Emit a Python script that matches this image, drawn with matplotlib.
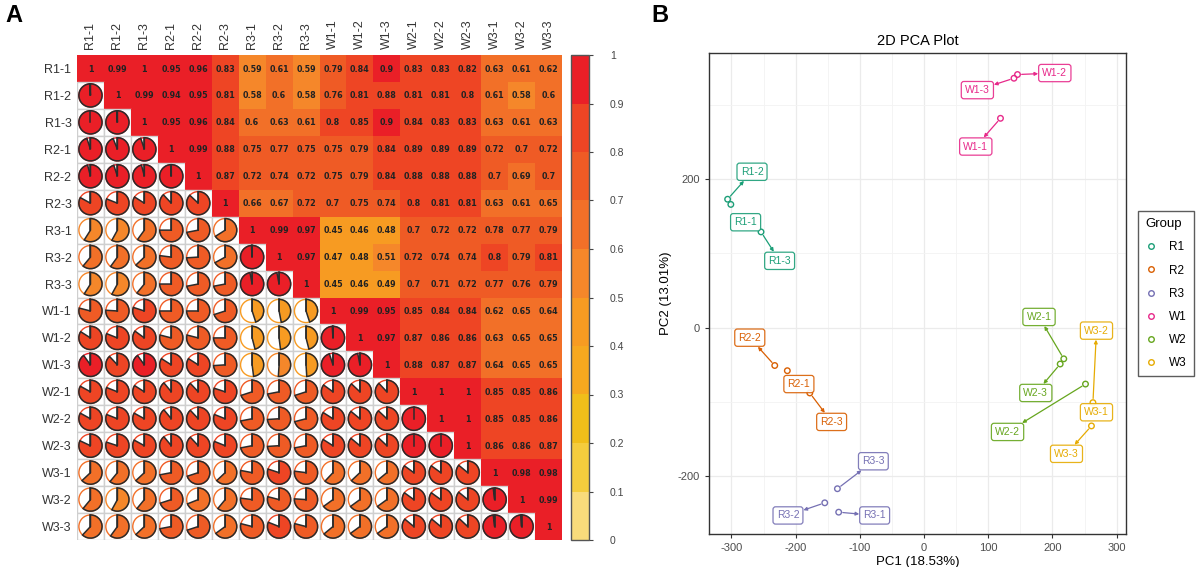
import numpy as np
import matplotlib.pyplot as plt
from matplotlib.patches import Rectangle, Circle, Wedge
from matplotlib.colors import ListedColormap, BoundaryNorm
from matplotlib.cm import ScalarMappable
from matplotlib.lines import Line2D

plt.rcParams['font.family'] = ['Liberation Sans', 'DejaVu Sans']
plt.rcParams['axes.unicode_minus'] = False

# ---- panel A data: sample correlations (upper triangle, row by row)
samples = ['R1-1', 'R1-2', 'R1-3', 'R2-1', 'R2-2', 'R2-3', 'R3-1', 'R3-2', 'R3-3',
           'W1-1', 'W1-2', 'W1-3', 'W2-1', 'W2-2', 'W2-3', 'W3-1', 'W3-2', 'W3-3']
upper = [
    [1, 0.99, 1, 0.95, 0.96, 0.83, 0.59, 0.61, 0.59, 0.79, 0.84, 0.9, 0.83, 0.83, 0.82, 0.63, 0.61, 0.62],
    [1, 0.99, 0.94, 0.95, 0.81, 0.58, 0.6, 0.58, 0.76, 0.81, 0.88, 0.81, 0.81, 0.8, 0.61, 0.58, 0.6],
    [1, 0.95, 0.96, 0.84, 0.6, 0.63, 0.61, 0.8, 0.85, 0.9, 0.84, 0.83, 0.83, 0.63, 0.61, 0.63],
    [1, 0.99, 0.88, 0.75, 0.77, 0.75, 0.75, 0.79, 0.84, 0.89, 0.89, 0.89, 0.72, 0.7, 0.72],
    [1, 0.87, 0.72, 0.74, 0.72, 0.75, 0.79, 0.84, 0.88, 0.88, 0.88, 0.7, 0.69, 0.7],
    [1, 0.66, 0.67, 0.72, 0.7, 0.75, 0.74, 0.8, 0.81, 0.81, 0.63, 0.61, 0.65],
    [1, 0.99, 0.97, 0.45, 0.46, 0.48, 0.7, 0.72, 0.72, 0.78, 0.77, 0.79],
    [1, 0.97, 0.47, 0.48, 0.51, 0.72, 0.74, 0.74, 0.8, 0.79, 0.81],
    [1, 0.45, 0.46, 0.49, 0.7, 0.71, 0.72, 0.77, 0.76, 0.79],
    [1, 0.99, 0.95, 0.85, 0.84, 0.84, 0.62, 0.65, 0.64],
    [1, 0.97, 0.87, 0.86, 0.86, 0.63, 0.65, 0.65],
    [1, 0.88, 0.87, 0.87, 0.64, 0.65, 0.65],
    [1, 1, 1, 0.85, 0.85, 0.86],
    [1, 1, 0.85, 0.85, 0.86],
    [1, 0.86, 0.86, 0.87],
    [1, 0.98, 0.98],
    [1, 0.99],
    [1],
]
bin_colors = ['#F9DB7B', '#F4CC3D', '#F0BE1A', '#F6A81F', '#F79B22',
              '#F5872A', '#F27028', '#EF5B25', '#EE4524', '#EA1F27']
cbar_ticks = [0, 0.1, 0.2, 0.3, 0.4, 0.5, 0.6, 0.7, 0.8, 0.9, 1]

# ---- panel B data: PCA scores and repelled label positions
pc_names = samples
pc1 = [-301, -306, -254, -213, -232.6, -178, -133, -154.7, -135,
       119, 145.5, 140, 217.6, 251.4, 212, 268, 263, 260.7]
pc2 = [166, 173, 129, -58, -51, -88, -248.6, -236, -217,
       282, 341, 336, -42, -76, -49, -112, -101, -132.4]
lab_x = [-278, -268, -225, -195, -271.5, -144, -77, -212, -79,
         80.5, 203.6, 83, 179, 130, 174, 268.5, 268.5, 221.8]
lab_y = [142, 210, 90, -76, -13.5, -127, -253, -253, -180,
         244, 343, 320, 14.4, -140.5, -88, -114, -4, -170]
groups = ['R1', 'R2', 'R3', 'W1', 'W2', 'W3']
group_colors = ['#1B9E77', '#D95F02', '#7570B3', '#E7298A', '#66A61E', '#E6AB02']

n = len(samples)
corr = np.zeros((n, n))
for i, row in enumerate(upper):
    corr[i, i:] = row
    corr[i:, i] = row


def val_color(v):
    return bin_colors[min(int(round(v * 100)) // 10, 9)]


fig = plt.figure(figsize=(12, 5.67), dpi=100)

# ---------------- panel A
ax = fig.add_axes([77 / 1200, 1 - 540 / 567, 485 / 1200, 485 / 567])
ax.set_xlim(0, n)
ax.set_ylim(n, 0)
r = 0.43
for i in range(n):
    for j in range(n):
        v = corr[i, j]
        c = val_color(v)
        if j >= i:
            ax.add_patch(Rectangle((j, i), 1, 1, facecolor=c, edgecolor='none', zorder=1))
            ax.text(j + 0.5, i + 0.52, f'{round(v, 2):g}', ha='center', va='center',
                    fontsize=5.8, fontweight='bold', color='#222222', family='DejaVu Sans', zorder=3)
        else:
            ax.add_patch(Rectangle((j, i), 1, 1, facecolor='white', edgecolor='#cfcfcf', lw=1, zorder=1))
            ax.add_patch(Circle((j + 0.5, i + 0.5), r, facecolor='white', edgecolor=c, lw=1, zorder=2))
            # y axis is inverted, so this runs clockwise from 12 o'clock
            ax.add_patch(Wedge((j + 0.5, i + 0.5), r, -90, -90 + 360 * v,
                               facecolor=c, edgecolor='#2b2b2b', lw=1.1, zorder=3))
            ax.plot([j + 0.5, j + 0.5], [i + 0.5, i + 0.5 - r], color='#2b2b2b', lw=1.1, zorder=4)
ax.set_xticks(np.arange(n) + 0.5)
ax.set_xticklabels(samples, rotation=90, fontsize=9, color='#333333')
ax.set_yticks(np.arange(n) + 0.5)
ax.set_yticklabels(samples, fontsize=9, color='#333333')
ax.tick_params(top=True, labeltop=True, bottom=False, labelbottom=False, length=0, pad=4)
for s in ax.spines.values():
    s.set_visible(False)

cax = fig.add_axes([571 / 1200, 1 - 540 / 567, 18 / 1200, 485 / 567])
cmap = ListedColormap(bin_colors)
norm = BoundaryNorm(cbar_ticks, cmap.N)
cb = fig.colorbar(ScalarMappable(norm=norm, cmap=cmap), cax=cax, ticks=cbar_ticks)
cb.ax.set_yticklabels([f'{t:g}' for t in cbar_ticks])
cb.ax.tick_params(labelsize=7.5, labelcolor='#444444', length=3, color='#444444', pad=12)
cb.outline.set_edgecolor('#555555')
cb.outline.set_linewidth(1)

fig.text(14 / 1200, 1 - 16 / 567, 'A', fontsize=17, fontweight='bold', ha='center', va='center')
fig.text(660 / 1200, 1 - 16 / 567, 'B', fontsize=17, fontweight='bold', ha='center', va='center')

# ---------------- panel B
bx = fig.add_axes([709 / 1200, 1 - 534 / 567, 417 / 1200, 481 / 567])
bx.set_xlim(-335, 314.5)
bx.set_ylim(-278, 370)
bx.set_xticks([-300, -200, -100, 0, 100, 200, 300])
bx.set_yticks([-200, 0, 200])
bx.set_xticks(np.arange(-250, 301, 100), minor=True)
bx.set_yticks([-100, 100, 300], minor=True)
bx.grid(True, which='major', color='#ebebeb', lw=0.9)
bx.grid(True, which='minor', color='#f3f3f3', lw=0.6)
bx.set_axisbelow(True)
bx.tick_params(which='major', labelsize=8, labelcolor='#4d4d4d', color='#333333', length=3)
bx.tick_params(which='minor', length=0)
for s in bx.spines.values():
    s.set_edgecolor('#333333')
    s.set_linewidth(1)
bx.set_xlabel('PC1 (18.53%)', fontsize=9.5, labelpad=2)
bx.set_ylabel('PC2 (13.01%)', fontsize=9.5, labelpad=4)
bx.set_title('2D PCA Plot', fontsize=10.5, pad=6)

gcol = {g: c for g, c in zip(groups, group_colors)}
for k, name in enumerate(pc_names):
    col = gcol[name[:2]]
    bx.scatter(pc1[k], pc2[k], s=16, facecolors='none', edgecolors=col, lw=1, zorder=3)
    p = bx.transData.transform((pc1[k], pc2[k]))
    q = bx.transData.transform((lab_x[k], lab_y[k]))
    arrow = None
    if np.hypot(*(p - q)) > 30:
        arrow = dict(arrowstyle='<|-', color=col, lw=0.9, mutation_scale=5,
                     shrinkA=0, shrinkB=3)
    bx.annotate(name, xy=(pc1[k], pc2[k]), xytext=(lab_x[k], lab_y[k]),
                ha='center', va='center', fontsize=7.5, color=col, zorder=4,
                bbox=dict(boxstyle='round,pad=0.35,rounding_size=0.25',
                          fc='white', ec=col, lw=0.9, alpha=0.9),
                arrowprops=arrow)

handles = [Line2D([], [], marker='o', ls='none', mfc='none', mec=c, ms=4, mew=1)
           for c in group_colors]
leg = fig.legend(handles, groups, title='Group', loc='upper left',
                 bbox_to_anchor=(1138 / 1200, 1 - 211 / 567), fontsize=8.5,
                 title_fontsize=9.5, fancybox=False, edgecolor='#333333',
                 handlelength=1.0, handletextpad=1.0, labelspacing=0.95,
                 borderpad=0.6, borderaxespad=0, alignment='left')
leg.get_frame().set_linewidth(1)

fig.savefig('out.png', dpi=100)
